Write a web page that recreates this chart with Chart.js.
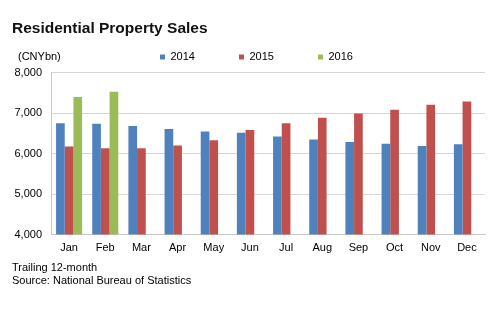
<!DOCTYPE html>
<html>
<head>
<meta charset="utf-8">
<script src="https://cdn.jsdelivr.net/npm/chart.js@4/dist/chart.umd.min.js"></script>
<style>
  html, body { margin: 0; padding: 0; background: #ffffff; }
  #wrap { width: 495px; height: 324px; }
</style>
</head>
<body>
<div id="wrap"><canvas id="c" width="495" height="324"></canvas></div>
<script>
const titleText = 'Residential Property Sales';
const unitLabel = '(CNYbn)';
const footerLines = ['Trailing 12-month', 'Source: National Bureau of Statistics'];
const months = ['Jan', 'Feb', 'Mar', 'Apr', 'May', 'Jun', 'Jul', 'Aug', 'Sep', 'Oct', 'Nov', 'Dec'];
const seriesNames = ['2014', '2015', '2016'];
const sales2014 = [6750, 6740, 6680, 6605, 6545, 6515, 6420, 6350, 6285, 6245, 6190, 6230];
const sales2015 = [6175, 6130, 6130, 6200, 6330, 6580, 6750, 6885, 6990, 7080, 7205, 7285];
const sales2016 = [7400, 7525, null, null, null, null, null, null, null, null, null, null];
const yTicks = [4000, 5000, 6000, 7000, 8000];

const colors = ['#4F81BD', '#C0504D', '#9BBB59'];
const FONT = "Arial, 'Liberation Sans', Helvetica, sans-serif";

const legendPad = 44;
const legendShift = {
  id: 'legendShift',
  afterLayout(chart) {
    const lg = chart.legend;
    if (!lg) return;
    lg.left = 160 - legendPad;
    lg.right = 495;
    lg.top = 57 - 5.5 - legendPad;
    lg.bottom = lg.top + 90;
  }
};
const unitText = {
  id: 'unitText',
  afterDraw(chart) {
    const ctx = chart.ctx;
    ctx.save();
    ctx.font = '11px ' + FONT;
    ctx.fillStyle = '#000';
    ctx.textAlign = 'left';
    ctx.textBaseline = 'middle';
    ctx.fillText(unitLabel, 18, 57);
    ctx.restore();
  }
};

const datasets = [sales2014, sales2015, sales2016].map((d, i) => ({
  label: seriesNames[i],
  data: d,
  backgroundColor: colors[i],
  borderWidth: 0,
  categoryPercentage: 0.72,
  barPercentage: 1.0
}));

new Chart(document.getElementById('c'), {
  type: 'bar',
  data: { labels: months, datasets },
  options: {
    responsive: false,
    animation: false,
    devicePixelRatio: 1,
    layout: { padding: { top: 0, left: 12, right: 10, bottom: 37 } },
    plugins: {
      title: {
        display: true,
        text: titleText,
        align: 'start',
        color: '#111',
        font: { family: FONT, size: 15.5, weight: 'bold' },
        padding: { top: 19, bottom: 34 }
      },
      subtitle: {
        display: true,
        text: footerLines,
        position: 'bottom',
        align: 'start',
        color: '#000',
        font: { family: FONT, size: 11, lineHeight: 1.155 },
        padding: { top: 7, bottom: 0 }
      },
      legend: {
        display: true,
        position: 'top',
        align: 'start',
        maxHeight: 1,
        labels: {
          boxWidth: 5,
          boxHeight: 5,
          padding: legendPad,
          color: '#000',
          font: { family: FONT, size: 11 }
        }
      },
      tooltip: { enabled: false }
    },
    scales: {
      x: {
        grid: { display: false, drawTicks: false },
        border: { display: true, color: '#c8c8c8' },
        ticks: { color: '#000', font: { family: FONT, size: 11 }, padding: 7, maxRotation: 0 },
        afterFit(s) { s.height = 20; }
      },
      y: {
        min: 4000,
        max: 8000,
        afterBuildTicks(s) { s.ticks = yTicks.map(v => ({ value: v })); },
        grid: { color: '#d6d6d6', drawTicks: false },
        border: { display: true, color: '#c8c8c8' },
        ticks: {
          color: '#000',
          font: { family: FONT, size: 11 },
          padding: 9,
          callback: v => Number(v).toLocaleString('en-US')
        },
        afterFit(s) { s.width = 39; }
      }
    }
  },
  plugins: [legendShift, unitText]
});
</script>
</body>
</html>
